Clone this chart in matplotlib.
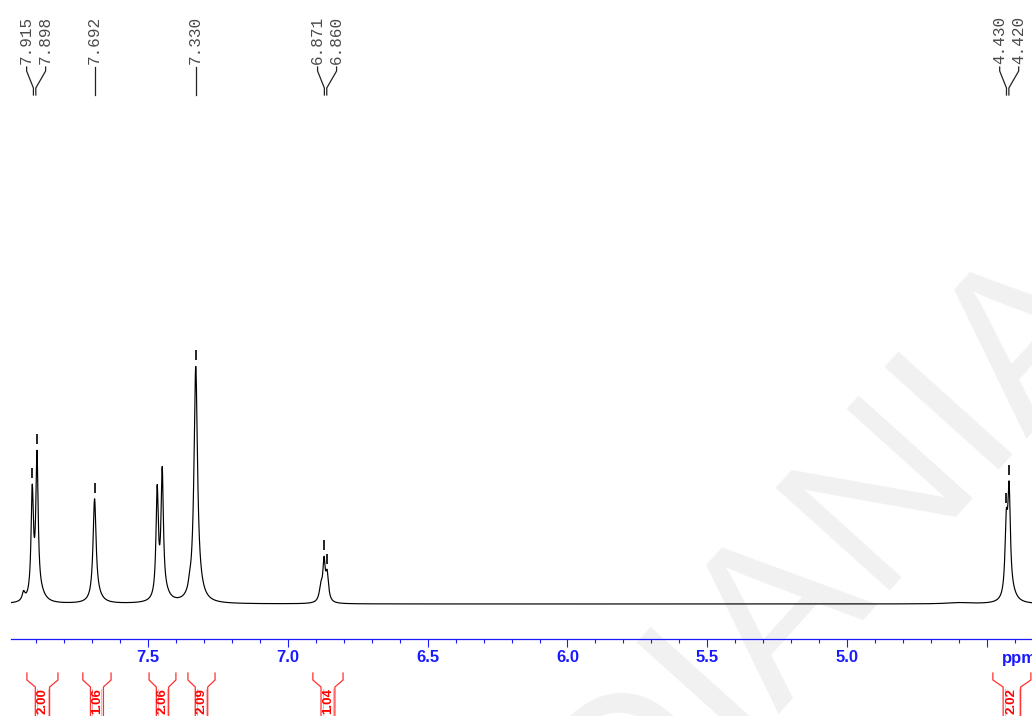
import numpy as np
import matplotlib
matplotlib.use("Agg")
import matplotlib.pyplot as plt
from matplotlib.transforms import blended_transform_factory
from matplotlib.ticker import MultipleLocator

# ---------------- data ----------------
# spectral lines: position (ppm), amplitude (relative, 7.330 = 100), half width (ppm)
peak_ppm    = [7.946, 7.915, 7.898, 7.885, 7.692, 7.680, 7.468, 7.450, 7.440,
               7.352, 7.330, 7.318, 6.882, 6.871, 6.860, 4.430, 4.420, 4.410, 4.600]
peak_height = [3.5, 44.0, 58.0, 3.0, 42.0, 2.0, 44.5, 51.0, 3.0,
               2.5, 96.0, 3.0, 6.0, 15.5, 11.0, 28.0, 42.0, 3.0, 0.5]
peak_hwhm   = [0.006, 0.005, 0.005, 0.02, 0.0065, 0.02, 0.005, 0.005, 0.02,
               0.005, 0.0075, 0.02, 0.007, 0.005, 0.006, 0.0055, 0.0055, 0.02, 0.05]

# peak-pick labels (groups that share a connector)
label_groups = [[7.915, 7.898], [7.692], [7.330], [6.871, 6.860], [4.430, 4.420]]

# integrals: range start, range end (ppm), value
integral_lo = [7.934, 7.734, 7.497, 7.358, 6.911, 4.478]
integral_hi = [7.823, 7.633, 7.401, 7.261, 6.803, 4.342]
integral_val = ["2.00", "1.06", "2.06", "2.09", "1.04", "2.02"]

tick_values = [7.5, 7.0, 6.5, 6.0, 5.5, 5.0, 4.5]
tick_labels = ["7.5", "7.0", "6.5", "6.0", "5.5", "5.0", ""]
x_left, x_right = 7.991, 4.338
watermark = "DIANIA"

# ---------------- figure ----------------
W, H = 1032, 716
fig = plt.figure(figsize=(W / 100, H / 100), dpi=100)
ax = fig.add_axes([11 / W, 77 / H, 1 - 11 / W, 639 / H])
ax.set_autoscale_on(False)
scale = 2.41  # pixels per intensity unit
ax.set_xlim(x_left, x_right)
ax.set_ylim(-(639 - 604) / scale, 604 / scale)
ppm_per_px = (x_left - x_right) / (W - 11)

BLUE = "#1a1aff"


def spectrum(x):
    x = np.asarray(x, dtype=float)
    y = np.zeros_like(x)
    for p, a, g in zip(peak_ppm, peak_height, peak_hwhm):
        y += a / (1 + ((x - p) / g) ** 2)
    return y


xs = np.linspace(x_left, x_right, 9000)
ax.plot(xs, spectrum(xs), color="black", lw=0.85, zorder=3)

# peak markers
for grp in label_groups:
    for p in grp:
        top = float(spectrum(p))
        ax.plot([p, p], [top + 6 / scale, top + 16 / scale], color="black",
                lw=1.2, zorder=3, solid_capstyle="butt")

tr = blended_transform_factory(ax.transData, fig.transFigure)


def fy(py):
    return 1 - py / H


# peak labels with connectors
for grp in label_groups:
    c = float(np.mean(grp))
    n = len(grp)
    for i, p in enumerate(grp):
        k = i - (n - 1) / 2
        lx = c - k * 19 * ppm_per_px - (1.5 * ppm_per_px if n > 1 else 0)
        bx = c - k * 2.4 * ppm_per_px
        ax.text(lx, fy(64), f"{p:.3f}", rotation=90, ha="center", va="bottom",
                transform=tr, family="Liberation Mono", fontsize=11.5,
                color="#4a4a4a")
        ax.plot([lx, lx, bx, bx], [fy(67), fy(71), fy(88), fy(95)],
                transform=tr, color="#222222", lw=0.9, clip_on=False)

# integrals
for lo, hi, val in zip(integral_lo, integral_hi, integral_val):
    inset = 0.27 * (lo - hi)
    ys = [fy(673), fy(680), fy(687), fy(720)]
    ax.plot([lo, lo, lo - inset, lo - inset], ys, transform=tr, color="#ff3030",
            lw=0.9, clip_on=False)
    ax.plot([hi, hi, hi + inset, hi + inset], ys, transform=tr, color="#ff3030",
            lw=0.9, clip_on=False)
    d = 2 * ppm_per_px
    ax.plot([lo - inset - d] * 2, [fy(689), fy(720)], transform=tr,
            color="#ffb0b0", lw=0.8, clip_on=False)
    ax.plot([hi + inset + d] * 2, [fy(689), fy(720)], transform=tr,
            color="#ffb0b0", lw=0.8, clip_on=False)
    ax.text((lo + hi) / 2, fy(688), val, rotation=90, ha="center", va="top",
            transform=tr, color="red", fontweight="bold", fontsize=9.5,
            family="Liberation Sans")

# axis
for s in ["left", "right", "top"]:
    ax.spines[s].set_visible(False)
ax.spines["bottom"].set_color(BLUE)
ax.spines["bottom"].set_linewidth(0.9)
ax.set_yticks([])
ax.set_xticks(tick_values)
ax.set_xticklabels(tick_labels)
ax.xaxis.set_minor_locator(MultipleLocator(0.1))
ax.tick_params(axis="x", which="major", direction="out", length=5.5, width=0.8,
               color=BLUE, labelcolor=BLUE, labelsize=12, pad=2.2)
ax.tick_params(axis="x", which="minor", direction="out", length=2.7, width=0.8,
               color=BLUE)
for lbl in ax.get_xticklabels():
    lbl.set_fontweight("bold")
    lbl.set_family("Liberation Sans")
ax.text(4.446, fy(659), "ppm", transform=tr, ha="left", va="center",
        color=BLUE, fontsize=12, fontweight="bold", family="Liberation Sans")

# watermark
ax.text(625 / W, 1 - 865 / H, watermark, transform=fig.transFigure, rotation=48,
        rotation_mode="anchor", ha="left", va="baseline", fontsize=160,
        color="#f1f1f1", zorder=0.5, family="Liberation Sans")

fig.savefig("out.png", dpi=100)
